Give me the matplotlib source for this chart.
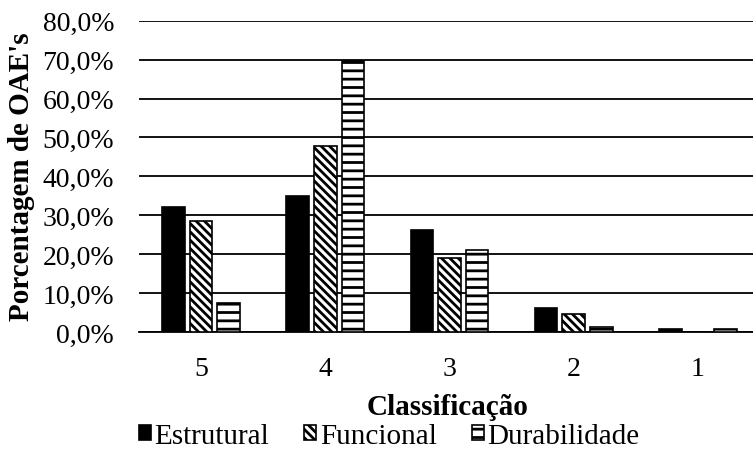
import matplotlib
matplotlib.use("Agg")
import matplotlib.pyplot as plt
import numpy as np
from matplotlib.ticker import FuncFormatter

categories = ["5", "4", "3", "2", "1"]
estrutural = [32.2, 34.9, 26.2, 6.1, 0.7]
funcional = [28.5, 47.8, 18.9, 4.5, 0.0]
durabilidade = [7.5, 69.6, 21.1, 1.2, 0.7]
yticks = [0, 10, 20, 30, 40, 50, 60, 70, 80]

plt.rcParams['font.family'] = ['Liberation Serif', 'DejaVu Serif']
plt.rcParams['hatch.linewidth'] = 2.0
plt.rcParams['hatch.color'] = 'black'

FS = 20
FL = 21
fig = plt.figure(figsize=(7.53, 4.52), dpi=100)
ax = fig.add_axes([139/753, 1-333/452, 621/753, (333-21.7)/452])

x = np.arange(len(categories))
w = 0.183
off = 0.222
ax.bar(x - off, estrutural, w, color='black', edgecolor='black', linewidth=1.2, label='Estrutural', zorder=3)
ax.bar(x, funcional, w, color='white', edgecolor='black', hatch='\\\\\\\\', linewidth=1.2, label='Funcional', zorder=3)
ax.bar(x + off, durabilidade, w, color='white', edgecolor='black', hatch='--', linewidth=1.2, label='Durabilidade', zorder=3)

ax.set_xlim(-0.5, len(categories) - 0.5)
ax.set_ylim(0, 80)
ax.set_yticks(yticks)
ax.yaxis.set_major_formatter(FuncFormatter(lambda v, p: f"{v:.1f}%".replace('.', ',')))
ax.set_xticks(x)
ax.set_xticklabels(categories)
ax.grid(axis='y', color='black', linewidth=1.3, zorder=0)
ax.set_axisbelow(True)
for s in ['top', 'right', 'left']:
    ax.spines[s].set_visible(False)
ax.spines['bottom'].set_linewidth(1.3)
ax.tick_params(axis='both', length=0, labelsize=FS, colors='black')
ax.tick_params(axis='y', pad=18)
ax.tick_params(axis='x', pad=17)
ax.set_ylabel("Porcentagem de OAE's", fontsize=FL, fontweight='bold', va='center')
ax.yaxis.set_label_coords(-(139-22)/621, (333-176.5)/311.3)
ax.set_xlabel("Classificação", fontsize=FL, fontweight='bold', va='center')
ax.xaxis.set_label_coords((448-139)/621, -(408-333)/311.3)

handles, labels = ax.get_legend_handles_labels()
fig.legend(handles, labels, loc='center', bbox_to_anchor=(389/753, 1-437/452), ncol=3,
           frameon=False, fontsize=FL, handlelength=0.42, handleheight=0.42,
           handletextpad=0.12, columnspacing=1.2, borderpad=0, borderaxespad=0)

fig.savefig("out.png", dpi=100)
